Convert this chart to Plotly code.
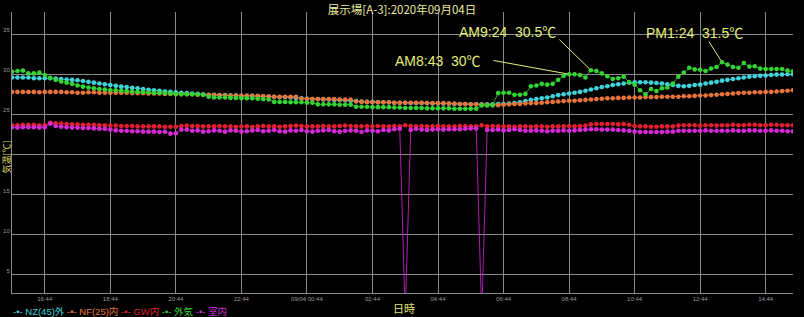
import pandas as pd
import plotly.graph_objects as go

# ---- data -------------------------------------------------------------
times = pd.date_range("2020-09-03 15:44", periods=144, freq="10min")

tick_times = ["2020-09-03 16:44", "2020-09-03 18:44", "2020-09-03 20:44", "2020-09-03 22:44",
              "2020-09-04 00:44", "2020-09-04 02:44", "2020-09-04 04:44", "2020-09-04 06:44",
              "2020-09-04 08:44", "2020-09-04 10:44", "2020-09-04 12:44", "2020-09-04 14:44"]
tick_labels = ["16:44", "18:44", "20:44", "22:44", "09/04 00:44", "02:44", "04:44", "06:44",
               "08:44", "10:44", "12:44", "14:44"]

y_ticks = [5, 10, 15, 20, 25, 30, 35]
y_tick_labels = ["5", "10", "15", "", "25", "30", "35"]

nz45_out = [29.6, 29.6, 29.6, 29.6, 29.5, 29.5, 29.5, 29.5, 29.45, 29.4,
            29.35, 29.3, 29.25, 29.15, 29.05, 28.95, 28.85, 28.75, 28.65, 28.55,
            28.45, 28.4, 28.3, 28.25, 28.15, 28.05, 28.0, 27.95, 27.85, 27.8,
            27.75, 27.7, 27.65, 27.6, 27.55, 27.5, 27.45, 27.45, 27.4, 27.4,
            27.35, 27.35, 27.3, 27.3, 27.3, 27.25, 27.25, 27.2, 27.2, 27.15,
            27.15, 27.1, 27.05, 27.0, 26.95, 26.9, 26.9, 26.85, 26.85, 26.8,
            26.8, 26.75, 26.7, 26.65, 26.6, 26.55, 26.55, 26.5, 26.5, 26.5,
            26.45, 26.45, 26.45, 26.4, 26.4, 26.4, 26.4, 26.35, 26.35, 26.35,
            26.35, 26.3, 26.3, 26.3, 26.25, 26.25, 26.25, 26.25, 26.25, 26.3,
            26.3, 26.35, 26.4, 26.5, 26.65, 26.8, 26.9, 27.0, 27.1, 27.25,
            27.4, 27.5, 27.6, 27.7, 27.8, 27.95, 28.1, 28.25, 28.4, 28.5,
            28.65, 28.75, 28.85, 28.95, 29.0, 29.0, 29.0, 28.95, 28.9, 28.85,
            28.75, 28.65, 28.55, 28.5, 28.55, 28.65, 28.7, 28.85, 28.95, 29.05,
            29.2, 29.3, 29.4, 29.5, 29.6, 29.7, 29.75, 29.8, 29.85, 29.9,
            29.95, 29.95, 30.0, 30.0]

nf25_in = [27.8, 27.8, 27.8, 27.8, 27.8, 27.75, 27.8, 27.8, 27.8, 27.8,
           27.75, 27.75, 27.7, 27.7, 27.75, 27.75, 27.7, 27.7, 27.7, 27.7,
           27.7, 27.7, 27.65, 27.65, 27.65, 27.6, 27.6, 27.6, 27.55, 27.55,
           27.5, 27.5, 27.5, 27.5, 27.45, 27.45, 27.4, 27.4, 27.4, 27.35,
           27.35, 27.35, 27.3, 27.3, 27.3, 27.3, 27.25, 27.25, 27.2, 27.2,
           27.2, 27.2, 27.2, 26.95, 26.95, 26.9, 26.9, 26.9, 26.9, 26.9,
           26.85, 26.85, 26.85, 26.6, 26.55, 26.55, 26.5, 26.5, 26.5, 26.5,
           26.45, 26.45, 26.45, 26.45, 26.45, 26.45, 26.4, 26.4, 26.4, 26.4,
           26.35, 26.35, 26.3, 26.3, 26.25, 26.25, 26.2, 26.2, 26.15, 26.15,
           26.2, 26.25, 26.3, 26.3, 26.35, 26.4, 26.4, 26.45, 26.5, 26.55,
           26.6, 26.65, 26.7, 26.7, 26.75, 26.8, 26.85, 26.9, 26.95, 27.0,
           27.0, 27.05, 27.05, 27.1, 27.1, 27.1, 27.15, 27.15, 27.15, 27.2,
           27.2, 27.2, 27.2, 27.25, 27.25, 27.3, 27.35, 27.35, 27.4, 27.45,
           27.5, 27.55, 27.6, 27.65, 27.7, 27.7, 27.75, 27.75, 27.8, 27.8,
           27.85, 27.9, 27.95, 28.0]

gw_in = [23.65, 23.65, 23.7, 23.7, 23.7, 23.65, 23.65, 23.95, 23.9, 23.85,
         23.8, 23.75, 23.75, 23.7, 23.7, 23.7, 23.65, 23.65, 23.6, 23.6,
         23.55, 23.55, 23.55, 23.5, 23.5, 23.5, 23.5, 23.5, 23.45, 23.45,
         23.45, 23.55, 23.6, 23.55, 23.55, 23.5, 23.5, 23.5, 23.55, 23.5,
         23.5, 23.45, 23.5, 23.5, 23.45, 23.5, 23.55, 23.5, 23.5, 23.45,
         23.5, 23.55, 23.6, 23.55, 23.5, 23.5, 23.5, 23.55, 23.5, 23.5,
         23.55, 23.6, 23.55, 23.5, 23.5, 23.55, 23.5, 23.55, 23.5, 23.5,
         23.55, 23.5, 23.65, 23.55, 23.5, 23.55, 23.5, 23.5, 23.55, 23.5,
         23.5, 23.5, 23.55, 23.55, 23.5, 23.5, 23.65, 23.5, 23.55, 23.5,
         23.5, 23.5, 23.45, 23.5, 23.5, 23.45, 23.5, 23.5, 23.45, 23.5,
         23.5, 23.5, 23.55, 23.5, 23.55, 23.6, 23.75, 23.8, 23.8, 23.8,
         23.8, 23.75, 23.8, 23.7, 23.55, 23.5, 23.5, 23.45, 23.45, 23.5,
         23.5, 23.5, 23.6, 23.65, 23.65, 23.65, 23.6, 23.65, 23.65, 23.6,
         23.65, 23.65, 23.7, 23.65, 23.65, 23.7, 23.7, 23.65, 23.65, 23.7,
         23.7, 23.65, 23.65, 23.65]

outside_air = [30.3, 30.4, 30.45, 30.1, 30.1, 30.2, 29.9, 29.55, 29.3, 29.1,
               28.95, 28.8, 28.6, 28.45, 28.35, 28.25, 28.15, 28.1, 28.0, 28.0,
               27.95, 27.9, 27.85, 27.8, 27.8, 27.75, 27.7, 27.7, 27.65, 27.6,
               27.55, 27.5, 27.5, 27.5, 27.5, 27.45, 27.2, 27.1, 27.1, 27.1,
               27.05, 27.05, 27.0, 27.0, 27.0, 26.95, 26.9, 26.85, 26.55, 26.55,
               26.55, 26.5, 26.5, 26.5, 26.45, 26.45, 26.25, 26.25, 26.25, 26.25,
               26.2, 26.2, 26.2, 25.95, 25.95, 25.95, 25.9, 25.9, 25.9, 25.9,
               25.85, 25.85, 25.8, 25.8, 25.8, 25.8, 25.75, 25.75, 25.75, 25.75,
               25.75, 25.7, 25.7, 25.7, 25.7, 25.7, 26.1, 26.1, 26.15, 27.65,
               27.7, 27.7, 27.45, 27.45, 27.55, 28.5, 28.6, 28.8, 28.7, 28.8,
               29.3, 29.8, 30.0, 30.0, 29.9, 29.6, 30.5, 30.4, 30.1, 29.75,
               29.4, 29.5, 29.7, 29.0, 28.7, 28.0, 27.5, 28.15, 27.9, 28.25,
               28.35, 28.85, 29.7, 30.2, 30.8, 30.6, 30.55, 30.4, 30.7, 30.9,
               31.5, 31.2, 30.9, 30.8, 31.4, 30.95, 31.0, 30.7, 30.65, 30.65,
               30.65, 30.65, 30.45, 30.35]

room = [23.4, 23.35, 23.4, 23.4, 23.4, 23.35, 23.4, 23.85, 23.55, 23.45,
        23.4, 23.35, 23.35, 23.3, 23.3, 23.25, 23.2, 23.2, 23.1, 23.0,
        22.95, 22.95, 22.9, 22.9, 22.85, 22.85, 22.85, 22.8, 22.85, 22.6,
        22.65, 23.1, 23.1, 22.95, 23.0, 22.85, 22.9, 23.0, 22.95, 22.85,
        23.0, 22.95, 22.85, 22.9, 23.0, 23.05, 22.9, 22.95, 23.05, 22.9,
        22.85, 23.0, 22.95, 23.05, 22.9, 22.85, 22.95, 23.0, 23.05, 22.9,
        22.85, 22.95, 23.0, 22.95, 22.8, 23.0, 22.95, 22.9, 23.05, 23.0,
        23.15, 23.2, 0.0, 23.05, 23.2, 23.1, 23.05, 23.1, 23.15, 23.1,
        23.15, 23.15, 23.15, 23.2, 23.25, 23.25, 0.0, 23.05, 23.05, 23.1,
        23.0, 23.05, 23.15, 23.05, 22.95, 22.95, 23.0, 22.95, 22.9, 22.95,
        22.95, 23.0, 22.95, 23.0, 23.05, 23.1, 23.15, 23.15, 23.1, 23.1,
        23.1, 23.05, 23.0, 22.95, 22.85, 22.8, 22.8, 22.8, 22.8, 22.8,
        22.85, 22.85, 22.95, 22.95, 22.95, 22.95, 22.95, 23.0, 22.95, 22.95,
        22.95, 22.95, 23.0, 22.95, 22.95, 23.0, 23.0, 22.95, 22.95, 23.0,
        22.95, 22.95, 22.9, 22.9]

series_names = ["NZ(45)外", "NF(25)内", "GW内", "外気", "室内"]
series_values = [nz45_out, nf25_in, gw_in, outside_air, room]
series_colors = ["#3fd4dc", "#e8743c", "#e02030", "#33d433", "#d62ad6"]

# callouts on outside air: (index, label)
callouts = [(102, "AM8:43  30℃"), (106, "AM9:24  30.5℃"), (130, "PM1:24  31.5℃")]

# ---- figure -------------------------------------------------------------
FONT = "Liberation Sans, Noto Sans CJK JP, sans-serif"
CJK = "Noto Sans CJK JP, sans-serif"

fig = go.Figure()
for name, vals, col in zip(series_names, series_values, series_colors):
    fig.add_trace(go.Scatter(
        x=times, y=vals, name=name, mode="lines+markers",
        line=dict(color=col, width=0.8),
        marker=dict(color=col, size=4.6),
        showlegend=False,
    ))

ann = []
line_offsets = [(-77, -14), (-33, -32), (-14, -22)]
text_shifts = [(-86, 13, "right"), (-33, 38, "right"), (-28, 29, "center")]
for (idx, label), (ax, ay), (xs, ys, xa) in zip(callouts, line_offsets, text_shifts):
    ann.append(dict(x=times[idx], y=outside_air[idx], xref="x", yref="y", text="",
                    showarrow=True, arrowhead=0, arrowwidth=1, arrowcolor="#e4ee78",
                    ax=ax, ay=ay, standoff=2))
    ann.append(dict(x=times[idx], y=outside_air[idx], xref="x", yref="y", text=label,
                    showarrow=False, xshift=xs, yshift=ys, xanchor=xa, yanchor="middle",
                    font=dict(family=FONT, size=14, color="#e4ee78")))

# axis titles
ann.append(dict(x=0, y=0.5, xref="paper", yref="paper", text="気温[℃]", textangle=-90,
                showarrow=False, xshift=-6, yshift=-5, xanchor="center", yanchor="middle",
                font=dict(family=CJK, size=9, color="#d8d860")))
ann.append(dict(x=0.5, y=0, xref="paper", yref="paper", text="日時",
                showarrow=False, xshift=1, yshift=-15, xanchor="center", yanchor="middle",
                font=dict(family=CJK, size=11, color="#e0e070")))

# legend row (as coloured text)
legend_text = " ".join(
    f'<span style="color:{c}">-•- {n}</span>' for n, c in zip(series_names, series_colors)
)
ann.append(dict(x=0, y=0, xref="paper", yref="paper", text=legend_text,
                showarrow=False, xshift=-1, yshift=-18, xanchor="left", yanchor="middle",
                font=dict(family=FONT, size=9.5, color="#cccccc")))

fig.update_layout(
    width=804, height=317,
    margin=dict(l=12, r=11, t=12, b=24),
    paper_bgcolor="black", plot_bgcolor="black",
    title=dict(text="展示場[A-3]:2020年09月04日", x=0.5, xref="container", xanchor="center",
               y=1 - 9.5 / 317, yref="container", yanchor="middle",
               font=dict(family=CJK, size=11.5, color="#ecec9c")),
    annotations=ann,
    showlegend=False,
)
fig.update_xaxes(
    range=[times[0], times[-1]],
    tickvals=tick_times, ticktext=tick_labels,
    showgrid=True, gridcolor="#8a8a8a", gridwidth=1,
    showline=True, linecolor="#8a8a8a", linewidth=1,
    ticks="", zeroline=False, automargin=False,
    tickfont=dict(family=FONT, size=6, color="#9a9a9a"),
)
fig.update_yaxes(
    range=[2.75, 37.75],
    tickvals=y_ticks, ticktext=y_tick_labels,
    showgrid=True, gridcolor="#8a8a8a", gridwidth=1,
    showline=True, linecolor="#8a8a8a", linewidth=1,
    ticks="", zeroline=False, automargin=False,
    ticklabelposition="outside top",
    tickfont=dict(family=FONT, size=6, color="#9a9a9a"),
)

fig.write_html("out.html")
